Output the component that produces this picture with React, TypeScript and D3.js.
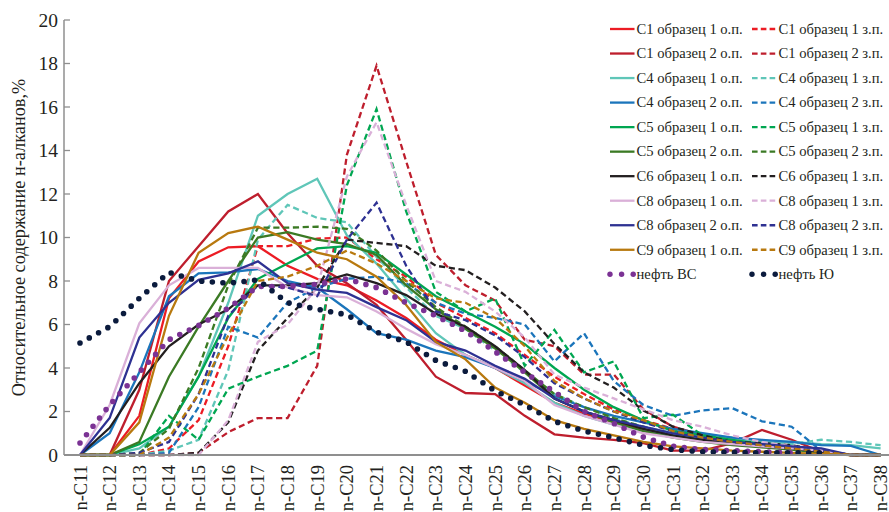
import React from "react";
import * as d3 from "d3";

// Carbon-number categories along the x axis
const categories = [
  "n-C11", "n-C12", "n-C13", "n-C14", "n-C15", "n-C16", "n-C17", "n-C18", "n-C19", "n-C20",
  "n-C21", "n-C22", "n-C23", "n-C24", "n-C25", "n-C26", "n-C27", "n-C28", "n-C29", "n-C30",
  "n-C31", "n-C32", "n-C33", "n-C34", "n-C35", "n-C36", "n-C37", "n-C38",
];

const yTicks = [0, 2, 4, 6, 8, 10, 12, 14, 16, 18, 20];

// Relative n-alkane content, % (one value per category)
const c1s1op = [0, 0, 1.8, 7.2, 8.9, 9.55, 9.6, 8.7, 8.1, 7.8, 7.1, 6.3, 5.3, 4.6, 4.0, 3.2, 2.4, 1.9, 1.5, 1.2, 0.9, 0.7, 0.5, 0.4, 0.3, 0.1, 0, 0];
const c1s1zp = [0, 0, 0, 0.3, 1.6, 5.0, 9.6, 9.6, 9.95, 10.0, 9.0, 8.2, 7.0, 6.3, 5.6, 4.6, 3.6, 2.8, 2.1, 1.6, 1.2, 0.9, 0.7, 0.5, 0.35, 0.2, 0, 0];
const c1s2op = [0, 0, 3.0, 8.0, 9.6, 11.2, 12.0, 10.2, 8.7, 7.9, 6.9, 5.3, 3.6, 2.85, 2.8, 1.8, 0.95, 0.8, 0.7, 0.55, 0.2, 0.2, 0.55, 1.15, 0.7, 0.15, 0, 0];
const c1s2zp = [0, 0, 0, 0, 0.1, 1.05, 1.7, 1.7, 4.1, 13.8, 17.9, 13.5, 9.2, 7.8, 7.1, 5.3, 5.0, 3.7, 3.7, 2.1, 1.3, 0.9, 0.6, 0.5, 0.35, 0.2, 0, 0];
const c4s1op = [0, 0, 0.3, 1.3, 3.6, 7.0, 11.0, 12.0, 12.7, 10.1, 8.8, 7.2, 5.6, 4.6, 4.0, 3.3, 2.4, 1.8, 1.4, 1.1, 0.9, 0.8, 0.7, 0.6, 0.6, 0.5, 0.45, 0.3];
const c4s1zp = [0, 0, 0, 0.2, 0.7, 3.9, 9.9, 11.5, 10.9, 10.7, 9.1, 7.7, 6.4, 5.8, 4.8, 3.8, 2.8, 2.2, 1.7, 1.3, 1.0, 0.9, 0.8, 0.6, 0.5, 0.7, 0.6, 0.45];
const c4s2op = [0, 1.0, 3.8, 7.3, 8.35, 8.4, 8.55, 8.0, 7.7, 6.7, 5.6, 5.3, 4.8, 4.5, 4.0, 3.4, 2.7, 2.2, 1.8, 1.5, 1.2, 1.0, 0.8, 0.7, 0.6, 0.45, 0.42, 0];
const c4s2zp = [0, 0, 0, 0.1, 2.2, 5.9, 5.4, 7.0, 7.7, 8.1, 8.2, 7.9, 7.0, 6.5, 6.3, 6.0, 4.3, 5.6, 3.4, 2.3, 1.8, 2.05, 2.15, 1.55, 1.3, 0.2, 0, 0];
const c5s1op = [0, 0, 0.5, 1.3, 3.6, 6.3, 8.1, 8.8, 9.5, 9.6, 9.3, 8.3, 7.3, 6.6, 5.9, 5.1, 4.0, 3.0, 2.2, 1.6, 1.1, 0.9, 0.7, 0.5, 0.35, 0.2, 0, 0];
const c5s1zp = [0, 0, 0, 1.8, 0.7, 3.05, 3.6, 4.1, 4.8, 12.4, 15.9, 11.2, 7.5, 6.6, 7.2, 4.1, 5.75, 3.8, 4.3, 1.7, 1.85, 0.9, 0.6, 0.45, 0.3, 0.2, 0, 0];
const c5s2op = [0, 0, 0.6, 3.6, 5.9, 8.0, 10.0, 10.25, 9.9, 9.7, 9.2, 7.8, 6.7, 5.8, 4.9, 3.8, 2.6, 2.0, 1.5, 1.1, 0.8, 0.6, 0.45, 0.35, 0.25, 0.1, 0, 0];
const c5s2zp = [0, 0, 0.1, 1.2, 4.0, 7.8, 10.45, 10.45, 10.5, 10.4, 9.4, 8.0, 6.8, 5.9, 5.0, 3.9, 2.8, 2.2, 1.7, 1.3, 0.9, 0.7, 0.5, 0.4, 0.3, 0.2, 0, 0];
const c6s1op = [0, 1.25, 3.3, 5.0, 6.0, 6.7, 7.8, 7.8, 7.9, 8.3, 7.9, 7.35, 6.5, 5.9, 5.0, 3.9, 2.6, 2.0, 1.6, 1.2, 0.9, 0.7, 0.5, 0.4, 0.3, 0.15, 0, 0];
const c6s1zp = [0, 0, 0, 0, 0.1, 1.5, 4.8, 6.3, 7.7, 9.9, 9.75, 9.6, 8.7, 8.5, 7.7, 6.6, 5.1, 3.8, 3.1, 2.05, 1.3, 0.9, 0.6, 0.55, 0.45, 0.2, 0, 0];
const c8s1op = [0, 2.3, 6.05, 7.8, 8.6, 8.6, 8.6, 7.7, 7.35, 7.25, 6.6, 5.8, 5.1, 4.6, 4.0, 3.4, 2.3, 1.8, 1.4, 1.0, 0.8, 0.6, 0.5, 0.4, 0.3, 0.2, 0, 0];
const c8s1zp = [0, 0, 0, 0, 0, 1.6, 5.2, 6.0, 7.7, 12.8, 15.3, 11.5, 8.0, 7.5, 6.6, 5.4, 3.7, 3.1, 2.6, 2.1, 1.6, 1.3, 0.9, 0.6, 0.4, 0.25, 0, 0];
const c8s2op = [0, 1.7, 5.4, 7.0, 8.05, 8.35, 8.9, 7.9, 7.6, 7.45, 6.8, 6.2, 5.2, 4.8, 4.1, 3.5, 2.6, 2.0, 1.6, 1.3, 1.0, 0.8, 0.6, 0.5, 0.4, 0.3, 0, 0];
const c8s2zp = [0, 0, 0.1, 0.6, 2.8, 6.4, 7.8, 7.7, 7.3, 9.9, 11.6, 8.7, 6.6, 6.2, 5.5, 4.5, 3.3, 2.6, 2.0, 1.5, 1.1, 0.8, 0.6, 0.45, 0.3, 0.2, 0, 0];
const c9s1op = [0, 0, 1.5, 6.4, 9.3, 10.2, 10.5, 9.9, 9.3, 9.0, 8.2, 6.9, 5.2, 4.4, 3.1, 2.4, 1.6, 1.2, 0.9, 0.6, 0.4, 0.3, 0.2, 0.15, 0.1, 0.05, 0, 0];
const c9s1zp = [0, 0, 0, 0.8, 2.8, 5.5, 8.0, 8.2, 8.7, 9.4, 8.8, 8.0, 7.2, 7.0, 6.3, 5.0, 3.4, 2.6, 2.0, 1.6, 1.1, 0.8, 0.6, 0.45, 0.3, 0.15, 0, 0];
const oilVS = [0.55, 2.3, 3.8, 5.3, 5.95, 6.75, 7.75, 7.75, 7.85, 8.1, 7.7, 7.0, 6.4, 5.7, 4.75, 3.8, 2.9, 2.0, 1.45, 0.82, 0.4, 0.25, 0.2, 0.15, 0.1, null, null, null];
const oilYu = [5.15, 5.9, 7.2, 8.4, 8.0, 7.9, 8.05, 7.0, 6.7, 6.45, 5.65, 5.2, 4.35, 3.85, 2.95, 2.3, 1.55, 1.1, 0.8, 0.45, 0.25, 0.15, 0.12, 0.1, 0.1, 0.1, null, null];

type Kind = "solid" | "dashed" | "dotted";
interface Series {
  name: string;
  values: (number | null)[];
  color: string;
  kind: Kind;
}

const RED = "#ec1c24";
const DARK_RED = "#be1e2d";
const TURQUOISE = "#5fc6b8";
const BLUE = "#1b75bb";
const GREEN = "#00a651";
const DARK_GREEN = "#3b7a24";
const BLACK = "#231f20";
const LILAC = "#dab0d8";
const INDIGO = "#2e3192";
const OCHRE = "#b8790f";
const PURPLE = "#7b3294";
const NAVY = "#0b1b3d";

// Legend rows: left column (о.п.) and right column (з.п.)
const legendRows: [Series, Series][] = [
  [
    { name: "C1 образец 1 о.п.", values: c1s1op, color: RED, kind: "solid" },
    { name: "C1 образец 1 з.п.", values: c1s1zp, color: RED, kind: "dashed" },
  ],
  [
    { name: "C1 образец 2 о.п.", values: c1s2op, color: DARK_RED, kind: "solid" },
    { name: "C1 образец 2 з.п.", values: c1s2zp, color: DARK_RED, kind: "dashed" },
  ],
  [
    { name: "C4 образец 1 о.п.", values: c4s1op, color: TURQUOISE, kind: "solid" },
    { name: "C4 образец 1 з.п.", values: c4s1zp, color: TURQUOISE, kind: "dashed" },
  ],
  [
    { name: "C4 образец 2 о.п.", values: c4s2op, color: BLUE, kind: "solid" },
    { name: "C4 образец 2 з.п.", values: c4s2zp, color: BLUE, kind: "dashed" },
  ],
  [
    { name: "C5 образец 1 о.п.", values: c5s1op, color: GREEN, kind: "solid" },
    { name: "C5 образец 1 з.п.", values: c5s1zp, color: GREEN, kind: "dashed" },
  ],
  [
    { name: "C5 образец 2 о.п.", values: c5s2op, color: DARK_GREEN, kind: "solid" },
    { name: "C5 образец 2 з.п.", values: c5s2zp, color: DARK_GREEN, kind: "dashed" },
  ],
  [
    { name: "C6 образец 1 о.п.", values: c6s1op, color: BLACK, kind: "solid" },
    { name: "C6 образец 1 з.п.", values: c6s1zp, color: BLACK, kind: "dashed" },
  ],
  [
    { name: "C8 образец 1 о.п.", values: c8s1op, color: LILAC, kind: "solid" },
    { name: "C8 образец 1 з.п.", values: c8s1zp, color: LILAC, kind: "dashed" },
  ],
  [
    { name: "C8 образец 2 о.п.", values: c8s2op, color: INDIGO, kind: "solid" },
    { name: "C8 образец 2 з.п.", values: c8s2zp, color: INDIGO, kind: "dashed" },
  ],
  [
    { name: "C9 образец 1 о.п.", values: c9s1op, color: OCHRE, kind: "solid" },
    { name: "C9 образец 1 з.п.", values: c9s1zp, color: OCHRE, kind: "dashed" },
  ],
  [
    { name: "нефть ВС", values: oilVS, color: PURPLE, kind: "dotted" },
    { name: "нефть Ю", values: oilYu, color: NAVY, kind: "dotted" },
  ],
];

const WIDTH = 889;
const HEIGHT = 512;
const AXIS_LEFT = 64;
const PLOT_TOP = 20;
const PLOT_BOTTOM = 455;
const FONT = "'Liberation Serif', 'Times New Roman', serif";
const TEXT = "#231f20";
const AXIS = "#8f8f8f";

function strokeProps(kind: Kind, color: string) {
  if (kind === "dotted") {
    return { stroke: color, strokeWidth: 5.6, strokeDasharray: "0 10.6", strokeLinecap: "round" as const };
  }
  if (kind === "dashed") {
    return { stroke: color, strokeWidth: 2.3, strokeDasharray: "6.2 3.6", strokeLinecap: "butt" as const };
  }
  return { stroke: color, strokeWidth: 2.3, strokeLinecap: "butt" as const };
}

export default function App() {
  const x = d3
    .scalePoint<string>()
    .domain(categories)
    .range([80, 880.6]);
  const y = d3.scaleLinear().domain([0, 20]).range([PLOT_BOTTOM, PLOT_TOP]);

  const line = d3
    .line<number | null>()
    .defined((v) => v != null)
    .x((_, i) => x(categories[i]) as number)
    .y((v) => y(v as number))
    .curve(d3.curveLinear);

  const allSeries = legendRows.flat();
  const lineSeries = allSeries.filter((s) => s.kind !== "dotted");
  const dotSeries = allSeries.filter((s) => s.kind === "dotted");

  const legendX = [610, 752];
  const legendY0 = 29;
  const legendStep = 24.53;

  return (
    <svg
      width={WIDTH}
      height={HEIGHT}
      style={{ position: "absolute", left: 0, top: 0, background: "#fff" }}
      fontFamily={FONT}
    >
      <rect x={0} y={0} width={WIDTH} height={HEIGHT} fill="#fff" />

      {/* y axis */}
      <line x1={AXIS_LEFT} x2={AXIS_LEFT} y1={PLOT_TOP} y2={PLOT_BOTTOM} stroke={AXIS} strokeWidth={1.5} />
      {yTicks.map((t) => (
        <g key={t}>
          <line x1={AXIS_LEFT} x2={AXIS_LEFT + 6} y1={y(t)} y2={y(t)} stroke={AXIS} strokeWidth={1.3} />
          <text x={58} y={y(t)} dy="0.34em" textAnchor="end" fontSize={19.5} fill={TEXT}>
            {t}
          </text>
        </g>
      ))}
      <text
        transform={`translate(25,${(PLOT_TOP + PLOT_BOTTOM) / 2}) rotate(-90)`}
        textAnchor="middle"
        fontSize={18.3}
        fill={TEXT}
      >
        Относительное содержание н-алканов,%
      </text>

      {/* x axis */}
      {categories.map((c) => (
        <text
          key={c}
          transform={`translate(${(x(c) as number) + 6.5},465) rotate(-90)`}
          textAnchor="end"
          fontSize={18.5}
          fill={TEXT}
        >
          {c}
        </text>
      ))}

      {/* series */}
      {lineSeries.map((s) => (
        <path key={s.name} d={line(s.values) || ""} fill="none" {...strokeProps(s.kind, s.color)} strokeLinejoin="miter" />
      ))}
      {dotSeries.map((s) => (
        <path key={s.name} d={line(s.values) || ""} fill="none" {...strokeProps(s.kind, s.color)} />
      ))}

      <line x1={AXIS_LEFT} x2={WIDTH} y1={PLOT_BOTTOM} y2={PLOT_BOTTOM} stroke={AXIS} strokeWidth={2} />

      {/* legend */}
      {legendRows.map((row, r) =>
        row.map((s, c) => {
          const lx = legendX[c];
          const ly = legendY0 + r * legendStep;
          return (
            <g key={s.name}>
              {s.kind === "dotted" ? (
                [0, 11.6, 23.2].map((dx) => <circle key={dx} cx={lx + dx} cy={ly} r={2.7} fill={s.color} />)
              ) : (
                <line
                  x1={lx}
                  x2={lx + 24.5}
                  y1={ly}
                  y2={ly}
                  stroke={s.color}
                  strokeWidth={2.3}
                  strokeDasharray={s.kind === "dashed" ? "5.6 3.2" : undefined}
                />
              )}
              <text x={lx + 26.5} y={ly} dy="0.33em" fontSize={14.6} fill={TEXT}>
                {s.name}
              </text>
            </g>
          );
        })
      )}
    </svg>
  );
}
